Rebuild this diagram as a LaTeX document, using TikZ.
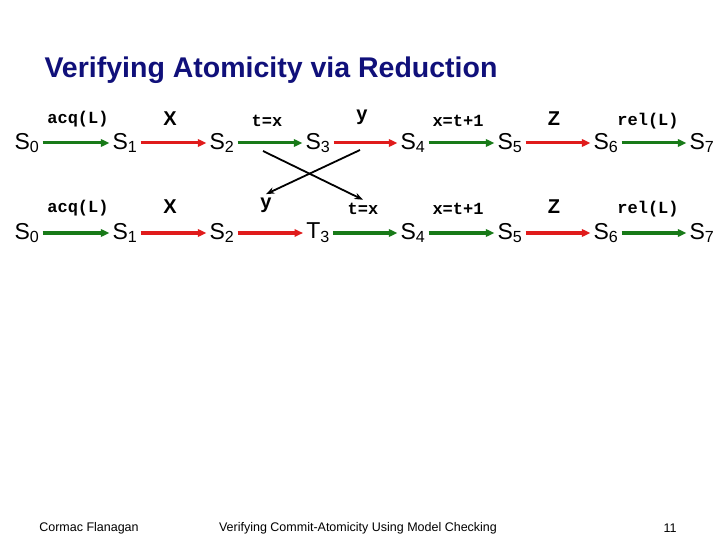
\documentclass[tikz,border=0pt]{standalone}
\usepackage{fontspec}
\setmainfont{Liberation Sans}
\newfontfamily\codefont{Liberation Mono}
\usetikzlibrary{arrows.meta}
\definecolor{local}{HTML}{187A18}
\definecolor{other}{HTML}{E01B1B}
\definecolor{title}{HTML}{10107A}

\begin{document}
\begin{tikzpicture}[x=1pt, y=-1pt,
      st/.style={inner sep=3pt, font=\fontsize{23}{23}\selectfont},
      code/.style={font=\codefont\bfseries\fontsize{17}{17}\selectfont},
      var/.style={font=\bfseries\fontsize{20}{20}\selectfont},
      step arrow/.style={-{Triangle[length=3mm, width=2.6mm]}, line width=3pt},
      swap/.style={-{Stealth[length=3mm]}, line width=1.8pt, black},
      foot/.style={font=\fontsize{12.5}{12.5}\selectfont},
    ]
    \useasboundingbox (0,0) rectangle (720,540);

    % Title
    \node[font=\bfseries\fontsize{28.5}{28.5}\selectfont, text=title] (ttl) at (271,70) {Verifying Atomicity via Reduction};

    % first row
    \node[st] (a0) at (27,143) {S\textsubscript{0}};
    \node[st] (a1) at (125,143) {S\textsubscript{1}};
    \node[st] (a2) at (222,143) {S\textsubscript{2}};
    \node[st] (a3) at (318,143) {S\textsubscript{3}};
    \node[st] (a4) at (413,143) {S\textsubscript{4}};
    \node[st] (a5) at (510,143) {S\textsubscript{5}};
    \node[st] (a6) at (606,143) {S\textsubscript{6}};
    \node[st] (a7) at (702,143) {S\textsubscript{7}};
    \draw[step arrow, local] (a0) -- (a1);
    \draw[step arrow, other] (a1) -- (a2);
    \draw[step arrow, local] (a2) -- (a3);
    \draw[step arrow, other] (a3) -- (a4);
    \draw[step arrow, local] (a4) -- (a5);
    \draw[step arrow, other] (a5) -- (a6);
    \draw[step arrow, local] (a6) -- (a7);
    \node[code] (la1) at (78,119) {acq(L)};
    \node[var] (la2) at (170,119) {X};
    \node[code] (la3) at (267,121) {t=x};
    \node[var] (la4) at (362,117) {y};
    \node[code] (la5) at (458,121) {x=t+1};
    \node[var] (la6) at (554,119) {Z};
    \node[code] (la7) at (648,121) {rel(L)};

    % second row
    \node[st] (b0) at (27,233) {S\textsubscript{0}};
    \node[st] (b1) at (125,233) {S\textsubscript{1}};
    \node[st] (b2) at (222,233) {S\textsubscript{2}};
    \node[st] (b3) at (318,233) {T\textsubscript{3}};
    \node[st] (b4) at (413,233) {S\textsubscript{4}};
    \node[st] (b5) at (510,233) {S\textsubscript{5}};
    \node[st] (b6) at (606,233) {S\textsubscript{6}};
    \node[st] (b7) at (702,233) {S\textsubscript{7}};
    \draw[step arrow, local] (b0) -- (b1);
    \draw[step arrow, other] (b1) -- (b2);
    \draw[step arrow, other] (b2) -- (b3);
    \draw[step arrow, local] (b3) -- (b4);
    \draw[step arrow, local] (b4) -- (b5);
    \draw[step arrow, other] (b5) -- (b6);
    \draw[step arrow, local] (b6) -- (b7);
    \node[code] (lb1) at (78,208) {acq(L)};
    \node[var] (lb2) at (170,207) {X};
    \node[var] (lb3) at (266,205) {y};
    \node[code] (lb4) at (363,209) {t=x};
    \node[code] (lb5) at (458,209) {x=t+1};
    \node[var] (lb6) at (554,207) {Z};
    \node[code] (lb7) at (648,209) {rel(L)};

    % commuting the two steps
    \coordinate (tx) at (263,151);
    \coordinate (ty) at (360,150);
    \draw[swap] (tx) -- (lb4.north);
    \draw[swap] (ty) -- (lb3.north);

    % Footer
    \node[foot] (auth) at (89,528) {Cormac Flanagan};
    \node[foot] (talk) at (358,528) {Verifying Commit-Atomicity Using Model Checking};
    \node[foot] (page) at (670,528) {11};
\end{tikzpicture}
\end{document}
